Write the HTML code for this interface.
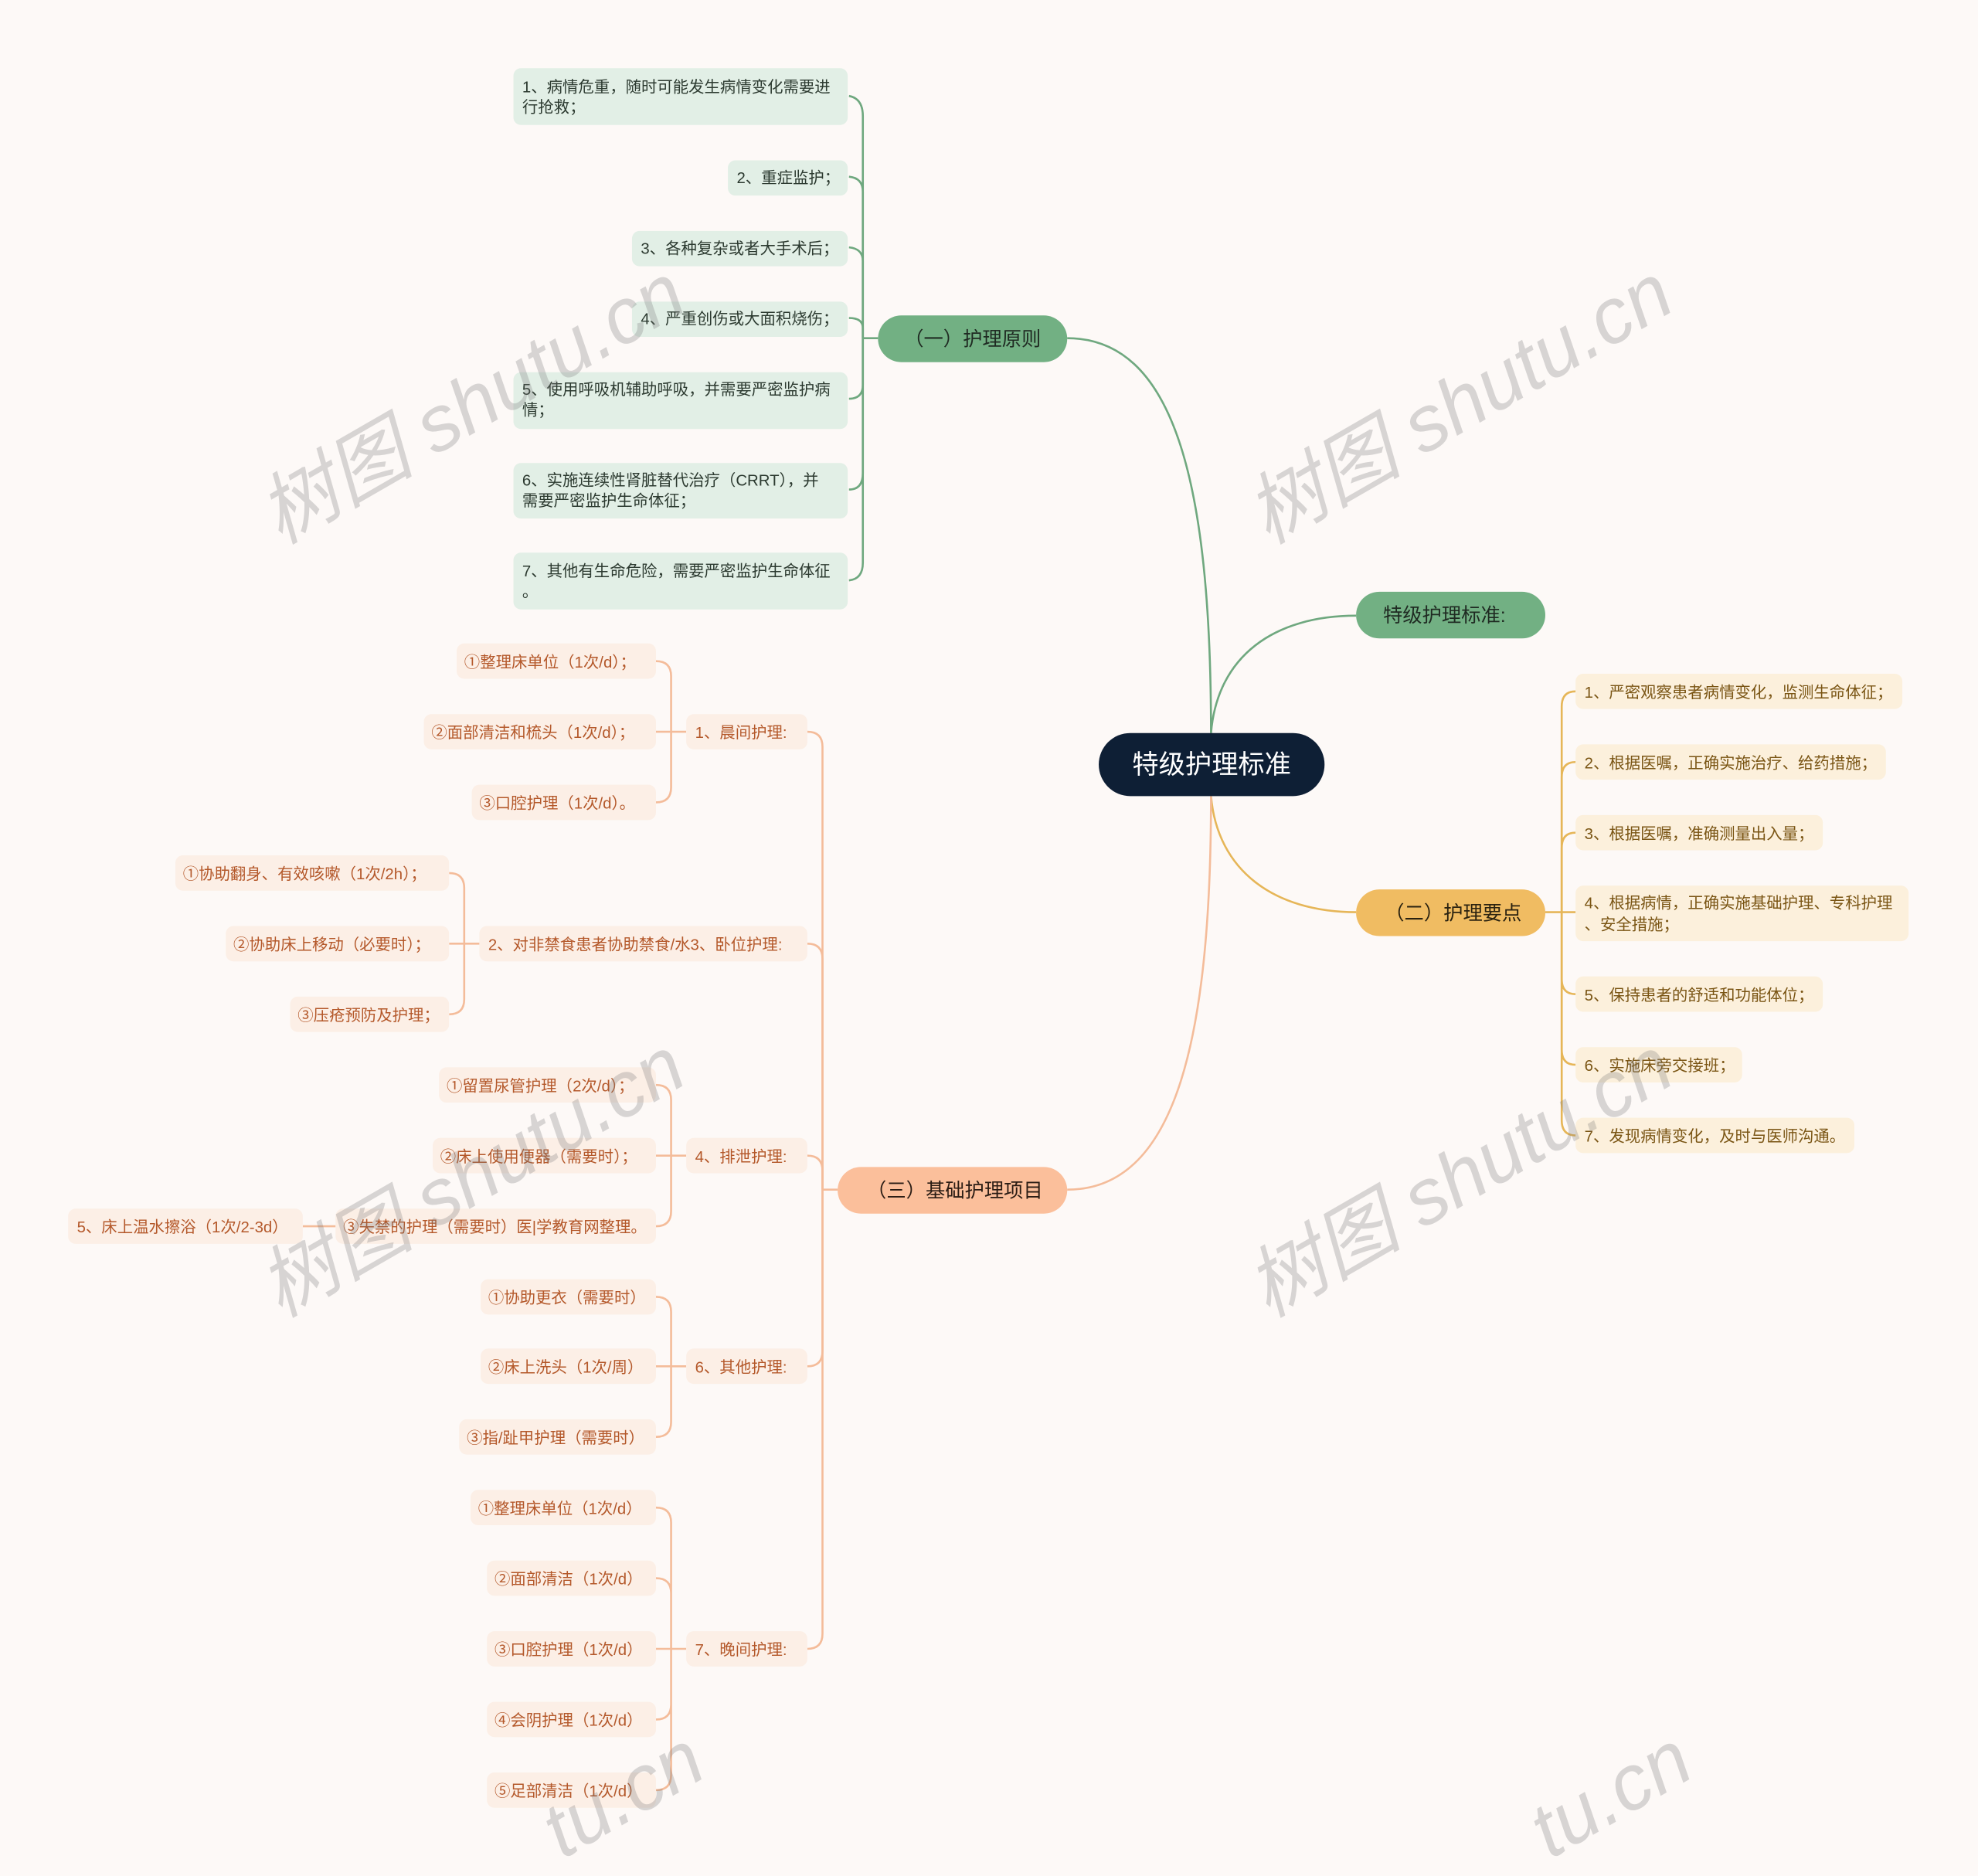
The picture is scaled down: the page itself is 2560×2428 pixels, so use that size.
<!DOCTYPE html>
<html><head><meta charset="utf-8"><style>
html,body{margin:0;padding:0;background:#fdf9f7;width:2560px;height:2428px;overflow:hidden;}
svg{display:block;}
text{font-family:"Liberation Sans","Noto Sans CJK SC",sans-serif;}
.g{fill:#2c3a30;font-size:12.5px;}
.y{fill:#7a5514;font-size:12.5px;}
.o{fill:#b4582a;font-size:12.5px;}
.wm{fill:rgba(120,120,120,0.28);font-size:62px;font-family:"Liberation Serif","Noto Serif CJK SC",serif;font-style:italic;}
</style></head><body>
<svg width="2560" height="2428" viewBox="0 0 1568 1487" xmlns="http://www.w3.org/2000/svg" overflow="hidden">
<rect width="1568" height="1487" fill="#fdf9f7"/>
<g fill="none" stroke-width="1.6">
<path d="M960,581 C960,380 930,268 846,268" stroke="#6fa87f"/>
<path d="M960,581 C965,520 1010,488 1075,488" stroke="#6fa87f"/>
<path d="M960,631 C965,690 1010,723 1075,723" stroke="#e6b658"/>
<path d="M960,631 C960,830 930,943 846,943" stroke="#f4bc9a"/>
<g stroke="#6fa87f">
<path d="M696,268 H684"/>
<path d="M684,268 V92 Q684,78 673,76"/>
<path d="M684,268 V152 Q684,141 673,140"/>
<path d="M684,268 V207 Q684,197 673,196"/>
<path d="M684,268 V260 Q684,252 673,252"/>
<path d="M684,268 V305 Q684,316 673,316"/>
<path d="M684,268 V375 Q684,388 673,388"/>
<path d="M684,268 V446 Q684,459 673,460"/>
</g>
<g stroke="#e6b658">
<path d="M1225,723 H1238"/>
<path d="M1238,723 V560 Q1238,548 1249,548"/>
<path d="M1238,723 V616 Q1238,604 1249,604"/>
<path d="M1238,723 V672 Q1238,660 1249,660"/>
<path d="M1238,723 H1249"/>
<path d="M1238,723 V776 Q1238,788 1249,788"/>
<path d="M1238,723 V832 Q1238,844 1249,844"/>
<path d="M1238,723 V888 Q1238,900 1249,900"/>
</g>
<g stroke="#f4bc9a">
<path d="M664,943 H652"/>
<path d="M652,943 V592 Q652,580 640,580"/>
<path d="M652,943 V760 Q652,748 640,748"/>
<path d="M652,943 V928 Q652,916 640,916"/>
<path d="M652,943 V1071 Q652,1083 640,1083"/>
<path d="M652,943 V1295 Q652,1307 640,1307"/>
<path d="M544,580 H520 M532,580 V536 Q532,524 520,524 M532,580 V624 Q532,636 520,636"/>
<path d="M380,748 H356 M368,748 V704 Q368,692 356,692 M368,748 V792 Q368,804 356,804"/>
<path d="M544,916 H520 M532,916 V872 Q532,860 520,860 M532,916 V960 Q532,972 520,972"/>
<path d="M266,972 H240"/>
<path d="M544,1083 H520 M532,1083 V1040 Q532,1028 520,1028 M532,1083 V1127 Q532,1139 520,1139"/>
<path d="M544,1307 H520 M532,1307 V1207 Q532,1195 520,1195 M532,1307 V1263 Q532,1251 520,1251 M532,1307 V1351 Q532,1363 520,1363 M532,1307 V1407 Q532,1419 520,1419"/>
</g>
</g>

<rect x="871" y="581" width="179" height="50" rx="25" fill="#0e1f35"/>
<text x="960.5" y="613" text-anchor="middle" fill="#fff" font-size="21">特级护理标准</text>
<rect x="696" y="250" width="150" height="37" rx="18.5" fill="#72b083"/>
<text x="771" y="274" text-anchor="middle" fill="#1f2a22" font-size="15.5">（一）护理原则</text>
<rect x="1075" y="469" width="150" height="37" rx="18.5" fill="#72b083"/>
<text x="1145" y="493" text-anchor="middle" fill="#1f2a22" font-size="15.5">特级护理标准:</text>
<rect x="1075" y="705" width="150" height="37" rx="18.5" fill="#f0bc62"/>
<text x="1152" y="729" text-anchor="middle" fill="#2a2210" font-size="15.5">（二）护理要点</text>
<rect x="664" y="925" width="182" height="37" rx="18.5" fill="#fbbf9b"/>
<text x="757" y="949" text-anchor="middle" fill="#2a1c14" font-size="15.5">（三）基础护理项目</text>

<g fill="#e2efe6">
<rect x="407" y="54" width="265" height="45" rx="6"/>
<rect x="577" y="127" width="95" height="28" rx="6"/>
<rect x="501" y="183" width="171" height="28" rx="6"/>
<rect x="501" y="239" width="171" height="28" rx="6"/>
<rect x="407" y="295" width="265" height="45" rx="6"/>
<rect x="407" y="367" width="265" height="44" rx="6"/>
<rect x="407" y="438" width="265" height="45" rx="6"/>
</g>
<text class="g" x="414" y="73">1、病情危重，随时可能发生病情变化需要进</text>
<text class="g" x="414" y="89">行抢救；</text>
<text class="g" x="584" y="145">2、重症监护；</text>
<text class="g" x="508" y="201">3、各种复杂或者大手术后；</text>
<text class="g" x="508" y="257">4、严重创伤或大面积烧伤；</text>
<text class="g" x="414" y="313">5、使用呼吸机辅助呼吸，并需要严密监护病</text>
<text class="g" x="414" y="329">情；</text>
<text class="g" x="414" y="385">6、实施连续性肾脏替代治疗（CRRT），并</text>
<text class="g" x="414" y="401">需要严密监护生命体征；</text>
<text class="g" x="414" y="457">7、其他有生命危险，需要严密监护生命体征</text>
<text class="g" x="414" y="473">。</text>

<g fill="#fcf0dc">
<rect x="1249" y="534" width="259" height="28" rx="6"/>
<rect x="1249" y="590" width="246" height="28" rx="6"/>
<rect x="1249" y="646" width="196" height="28" rx="6"/>
<rect x="1249" y="702" width="264" height="44" rx="6"/>
<rect x="1249" y="774" width="196" height="28" rx="6"/>
<rect x="1249" y="830" width="132" height="28" rx="6"/>
<rect x="1249" y="886" width="221" height="28" rx="6"/>
</g>
<text class="y" x="1256" y="553">1、严密观察患者病情变化，监测生命体征；</text>
<text class="y" x="1256" y="609">2、根据医嘱，正确实施治疗、给药措施；</text>
<text class="y" x="1256" y="665">3、根据医嘱，准确测量出入量；</text>
<text class="y" x="1256" y="720">4、根据病情，正确实施基础护理、专科护理</text>
<text class="y" x="1256" y="737">、安全措施；</text>
<text class="y" x="1256" y="793">5、保持患者的舒适和功能体位；</text>
<text class="y" x="1256" y="849">6、实施床旁交接班；</text>
<text class="y" x="1256" y="905">7、发现病情变化，及时与医师沟通。</text>

<g fill="#fcefe6">
<rect x="544" y="566" width="96" height="28" rx="6"/>
<rect x="380" y="734" width="260" height="28" rx="6"/>
<rect x="544" y="902" width="96" height="28" rx="6"/>
<rect x="544" y="1069" width="96" height="28" rx="6"/>
<rect x="544" y="1293" width="96" height="28" rx="6"/>
<rect x="362" y="510" width="158" height="28" rx="6"/>
<rect x="336" y="566" width="184" height="28" rx="6"/>
<rect x="374" y="622" width="146" height="28" rx="6"/>
<rect x="139" y="678" width="217" height="28" rx="6"/>
<rect x="179" y="734" width="177" height="28" rx="6"/>
<rect x="230" y="790" width="126" height="28" rx="6"/>
<rect x="348" y="846" width="172" height="28" rx="6"/>
<rect x="343" y="902" width="177" height="28" rx="6"/>
<rect x="266" y="958" width="254" height="28" rx="6"/>
<rect x="54" y="958" width="186" height="28" rx="6"/>
<rect x="381" y="1014" width="139" height="28" rx="6"/>
<rect x="381" y="1069" width="139" height="28" rx="6"/>
<rect x="364" y="1125" width="156" height="28" rx="6"/>
<rect x="373" y="1181" width="147" height="28" rx="6"/>
<rect x="386" y="1237" width="134" height="28" rx="6"/>
<rect x="386" y="1293" width="134" height="28" rx="6"/>
<rect x="386" y="1349" width="134" height="28" rx="6"/>
<rect x="386" y="1405" width="134" height="28" rx="6"/>
</g>
<text class="o" x="551" y="585">1、晨间护理:</text>
<text class="o" x="387" y="753">2、对非禁食患者协助禁食/水3、卧位护理:</text>
<text class="o" x="551" y="921">4、排泄护理:</text>
<text class="o" x="551" y="1088">6、其他护理:</text>
<text class="o" x="551" y="1312">7、晚间护理:</text>
<text class="o" x="368" y="529">①整理床单位（1次/d）；</text>
<text class="o" x="342" y="585">②面部清洁和梳头（1次/d）；</text>
<text class="o" x="380" y="641">③口腔护理（1次/d）。</text>
<text class="o" x="145" y="697">①协助翻身、有效咳嗽（1次/2h）；</text>
<text class="o" x="185" y="753">②协助床上移动（必要时）；</text>
<text class="o" x="236" y="809">③压疮预防及护理；</text>
<text class="o" x="354" y="865">①留置尿管护理（2次/d）；</text>
<text class="o" x="349" y="921">②床上使用便器（需要时）；</text>
<text class="o" x="272" y="977">③失禁的护理（需要时）医|学教育网整理。</text>
<text class="o" x="61" y="977">5、床上温水擦浴（1次/2-3d）</text>
<text class="o" x="387" y="1033">①协助更衣（需要时）</text>
<text class="o" x="387" y="1088">②床上洗头（1次/周）</text>
<text class="o" x="370" y="1144">③指/趾甲护理（需要时）</text>
<text class="o" x="379" y="1200">①整理床单位（1次/d）</text>
<text class="o" x="392" y="1256">②面部清洁（1次/d）</text>
<text class="o" x="392" y="1312">③口腔护理（1次/d）</text>
<text class="o" x="392" y="1368">④会阴护理（1次/d）</text>
<text class="o" x="392" y="1424">⑤足部清洁（1次/d）</text>

<g class="wm">
<text transform="translate(222,432) rotate(-30)">树图 shutu.cn</text>
<text transform="translate(1005,432) rotate(-30)">树图 shutu.cn</text>
<text transform="translate(222,1045) rotate(-30)">树图 shutu.cn</text>
<text transform="translate(1005,1045) rotate(-30)">树图 shutu.cn</text>
<text transform="translate(446,1474) rotate(-30)">tu.cn</text>
<text transform="translate(1229,1474) rotate(-30)">tu.cn</text>
</g>
</svg>
</body></html>
